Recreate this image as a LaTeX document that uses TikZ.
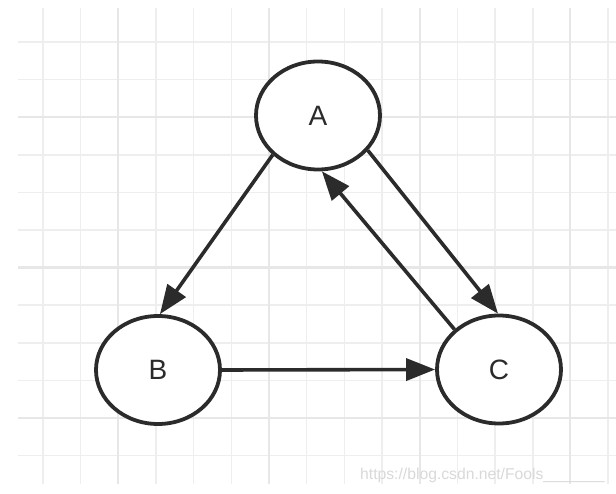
\documentclass[tikz,border=0pt]{standalone}
\usepackage{fontspec}
\setmainfont{Liberation Sans}
\usetikzlibrary{arrows.meta,shapes.geometric}
\definecolor{ink}{HTML}{2B2B2B}
\definecolor{gridc}{HTML}{EEEEEE}
\definecolor{gridm}{HTML}{E7E7E7}
\definecolor{wmark}{HTML}{D9D9D9}
\begin{document}
\begin{tikzpicture}[x=1pt,y=-1pt,
  state/.style={ellipse, draw=ink, line width=3.8pt, fill=white,
    minimum width=124pt, minimum height=108pt, inner sep=0pt,
    font=\fontsize{28}{30}\selectfont, text=ink},
  conn/.style={draw=ink, line width=3.6pt, -{Triangle[length=29pt,width=22pt]}},
  minorline/.style={draw=gridc, line width=1.6pt},
  majorline/.style={draw=gridm, line width=2.2pt}]
\useasboundingbox (0,0) rectangle (616,494);
\fill[white] (0,0) rectangle (616,494);
\begin{scope}
  \clip (18,8) rectangle (616,484);
  \foreach \i in {0,...,15} {\draw[minorline] ({43+37.67*\i},8) -- ({43+37.67*\i},484);}
  \foreach \j in {0,...,11} {\draw[minorline] (18,{42+37.6*\j}) -- (616,{42+37.6*\j});}
  \foreach \i in {2,6,10,14} {\draw[majorline] ({43+37.67*\i},8) -- ({43+37.67*\i},484);}
  \foreach \j in {2,6,10} {\draw[majorline] (18,{42+37.6*\j}) -- (616,{42+37.6*\j});}
\end{scope}
\node[state] (A) at (318,115.5) {A};
\node[state] (B) at (158,370) {B};
\node[state] (C) at (499,369.5) {C};
\draw[conn] (A.221) -- (B.88);
\draw[conn] (A.325) -- (C.91);
\draw[conn] (C.138) -- (A.274);
\draw[conn] (B.east) -- (C.west);
\node[anchor=base west, inner sep=0pt, text=wmark, font=\fontsize{15.7}{16}\selectfont] (wm) at (360,479) {https://blog.csdn.net/Fools\_\_\_\_\_\_\_};
\end{tikzpicture}
\end{document}
